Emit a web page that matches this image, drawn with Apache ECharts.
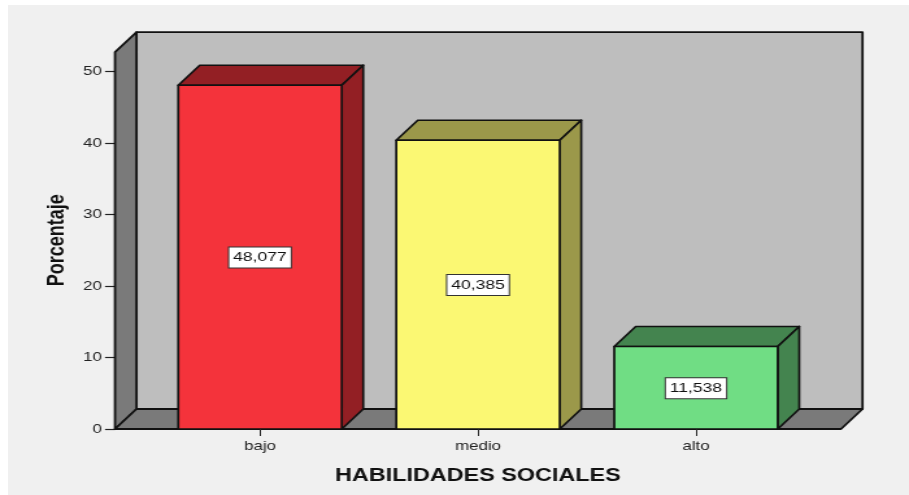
<!DOCTYPE html>
<html><head><meta charset="utf-8">
<style>
html,body{margin:0;padding:0;background:#fff;overflow:hidden;width:909px;height:495px}
#bg{position:absolute;left:8px;top:5px;right:0;bottom:0;background:#f0f0f0}
#c{position:absolute;left:0;top:0;width:700px;height:495px;transform-origin:0 0;transform:scaleX(1.29857)}
</style>
<script src="https://cdn.jsdelivr.net/npm/echarts@6/dist/echarts.min.js"></script>
</head><body>
<div id="bg"></div><div id="c"></div>
<script>
const categories = ['bajo', 'medio', 'alto'];
const values = [48.077, 40.385, 11.538];
const valueLabels = ['48,077', '40,385', '11,538'];
const yTicks = [0, 10, 20, 30, 40, 50];
const wallTop = 52.7;
const frontColors = ['#f4333b', '#fbf873', '#70dd84'];
const topColors = ['#931f24', '#9b984a', '#44844f'];
const xTitle = 'HABILIDADES SOCIALES';
const yTitle = 'Porcentaje';

const K = 909 / 700;
const depthX = 21.5 / K, depthY = 20, sideMargin = 36 / K;
const line = '#111';

function poly(points, fill, lw) {
  return { type: 'polygon', shape: { points }, style: { fill, stroke: line, lineWidth: lw, lineJoin: 'round' } };
}
function renderWalls(params, api) {
  const band = api.size([1, 0])[0];
  const l = api.coord([0, 0])[0] - band / 2 - sideMargin;
  const r = api.coord([categories.length - 1, 0])[0] + band / 2 + sideMargin;
  const b = api.coord([0, 0])[1];
  const t = api.coord([0, wallTop])[1];
  return { type: 'group', children: [
    poly([[l + depthX, t - depthY], [r + depthX, t - depthY], [r + depthX, b - depthY], [l + depthX, b - depthY]], '#bebebe', 1.8),
    poly([[l, t], [l + depthX, t - depthY], [l + depthX, b - depthY], [l, b]], '#7a7a7a', 1.8),
    poly([[l, b], [l + depthX, b - depthY], [r + depthX, b - depthY], [r, b]], '#7a7a7a', 1.8)
  ] };
}
function renderBar(params, api) {
  const i = api.value(0), v = api.value(1);
  const w = api.size([1, 0])[0] * 0.75;
  const c = api.coord([i, v]);
  const base = api.coord([i, 0]);
  const mid = api.coord([i, v / 2]);
  const l = c[0] - w / 2, r = c[0] + w / 2, t = c[1], b = base[1];
  return { type: 'group', children: [
    poly([[l, t], [l + depthX, t - depthY], [r + depthX, t - depthY], [r, t]], topColors[i], 1.7),
    poly([[r, t], [r + depthX, t - depthY], [r + depthX, b - depthY], [r, b]], topColors[i], 1.7),
    poly([[l, t], [r, t], [r, b], [l, b]], frontColors[i], 1.7),
    { type: 'text', style: {
        text: valueLabels[i], x: c[0], y: mid[1] + 0.5, align: 'center', verticalAlign: 'middle',
        fill: '#111', font: '13.5px "Liberation Sans"', backgroundColor: '#fff',
        borderColor: '#333', borderWidth: 1, padding: [3, 3, 3, 3]
    } }
  ] };
}
const chart = echarts.init(document.getElementById('c'), null, { renderer: 'canvas', width: 700, height: 495 });
chart.setOption({
  animation: false,
  backgroundColor: 'transparent',
  grid: { left: 151 / K, width: 654 / K, top: 71.5, height: 357.5, containLabel: false },
  xAxis: {
    type: 'category', data: categories, boundaryGap: true, z: 5,
    axisLine: { show: false },
    axisTick: { show: true, alignWithLabel: true, length: 7, lineStyle: { color: '#222', width: 1 } },
    axisLabel: { color: '#222', fontFamily: 'Liberation Sans', fontSize: 13, margin: 11 },
    name: xTitle, nameLocation: 'middle', nameGap: 38,
    nameTextStyle: { color: '#111', fontFamily: 'Liberation Sans', fontWeight: 'bold', fontSize: 18 }
  },
  yAxis: {
    type: 'value', min: yTicks[0], max: yTicks[yTicks.length - 1], interval: 10, offset: sideMargin,
    splitLine: { show: false },
    axisLine: { show: false },
    axisTick: { show: true, length: 10 / K, lineStyle: { color: '#222', width: 1.2 } },
    axisLabel: { color: '#222', fontFamily: 'Liberation Sans', fontSize: 13, margin: 10 },
    name: yTitle, nameLocation: 'middle', nameGap: 36, nameRotate: 90,
    nameTextStyle: { color: '#111', fontFamily: 'Liberation Sans', fontWeight: 'bold', fontSize: 18, padding: [0, 0, 0, 20] }
  },
  series: [
    { type: 'custom', name: 'walls', renderItem: renderWalls, clip: false, silent: true, z: 1, data: [[0, wallTop]] },
    { type: 'custom', name: 'Porcentaje', renderItem: renderBar, clip: false, z: 3,
      data: values.map((v, i) => [i, v]) }
  ]
});
</script>
</body></html>
